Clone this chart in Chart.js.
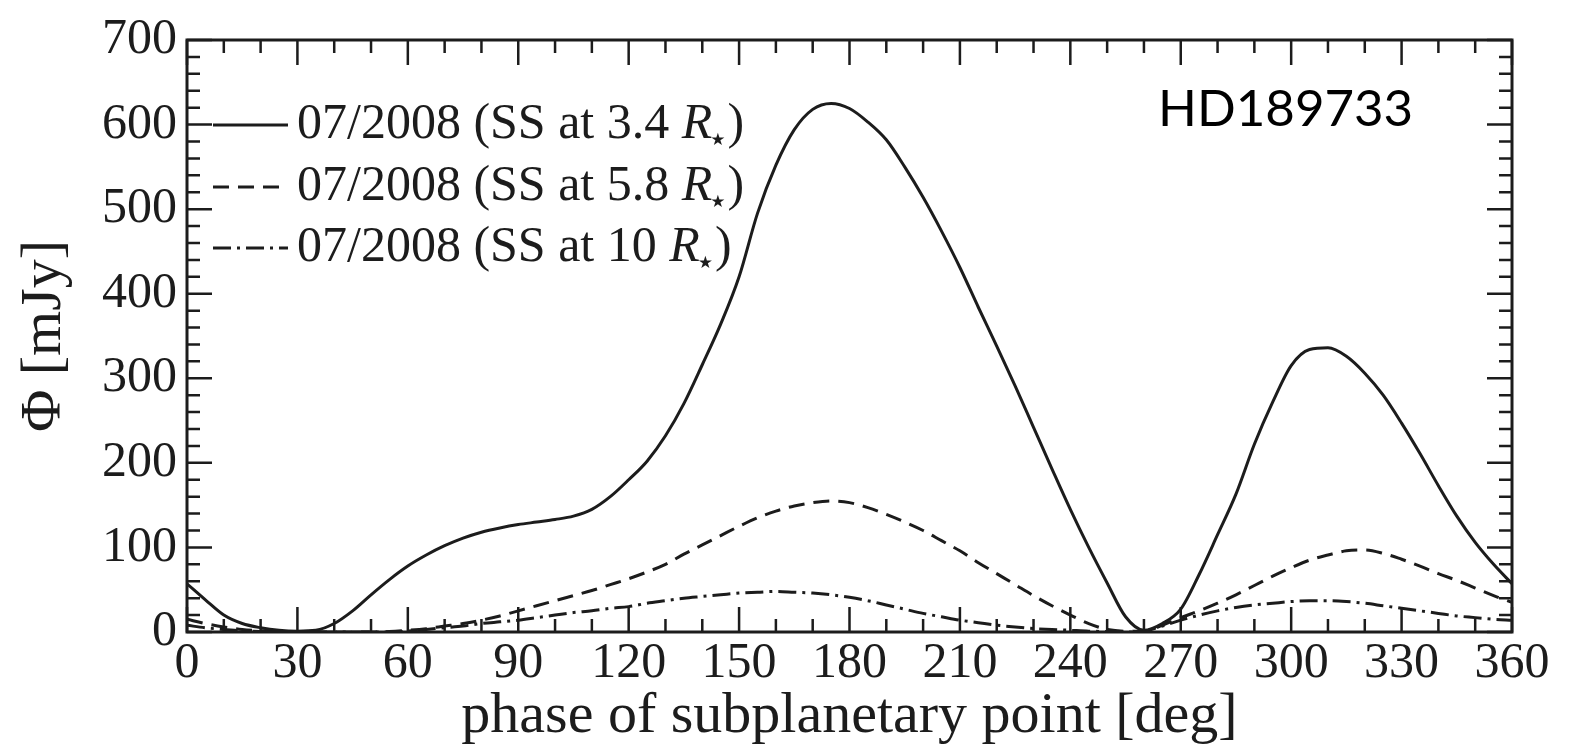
<!DOCTYPE html>
<html>
<head>
<meta charset="utf-8">
<script src="https://cdn.jsdelivr.net/npm/chart.js@4.4.1/dist/chart.umd.min.js"></script>
<style>
  html, body { margin: 0; padding: 0; background: #fff; }
</style>
</head>
<body>
<canvas id="phaseChart" width="1574" height="746"></canvas>
<script>
// phase of subplanetary point [deg], sampled every 5 deg
const phase = [0,5,10,15,20,25,30,35,40,45,50,55,60,65,70,75,80,85,90,95,100,105,110,115,120,125,130,135,140,145,150,155,160,165,170,175,180,185,190,195,200,205,210,215,220,225,230,235,240,245,250,255,260,265,270,275,280,285,290,295,300,305,310,315,320,325,330,335,340,345,350,355,360];

// flux [mJy]
const flux34 = [57,38,20,10,5,2,1,2,10,25,44,62,78,91,102,111,118,123,127,130,133,137,145,160,180,202,232,270,316,364,420,495,552,594,618,625,619,603,582,550,514,474,431,384,338,291,242,193,145,100,58,18,2,10,27,68,115,163,222,272,315,334,336,326,306,280,247,211,173,137,106,80,57];
const flux58 = [15,10,6,3,1.5,0.5,0,0,0,0,0,0.5,2,4,7,10,14,19,25,31,37,43,49,56,63,71,80,92,103,114,125,135,143,149,153,155,153,147,139,130,120,108,96,82,69,56,43,31,20,10,3,1,1,8,17,25,34,44,55,66,76,85,91,96,97,93,86,78,69,61,52,43,35];
const flux10 = [8,5,3,1.5,0.5,0,0,0,0,0,0,0,1,3,5,7,10,12,14,17,20,23,25,28,30,34,37,40,42,44,46,47,48,47,46,44,41,37,32,27,22,18,14,11,8,6,4,3,2,1,0.5,0,1,7,14,20,25,29,32,34,36,37,37,36,34,31,28,25,22,19,17,15,14];

const seriesLabels = ['07/2008 (SS at 3.4 R★)', '07/2008 (SS at 5.8 R★)', '07/2008 (SS at 10 R★)'];
const xTickLabels = [0,30,60,90,120,150,180,210,240,270,300,330,360];
const yTickLabels = [0,100,200,300,400,500,600,700];
const starName = 'HD189733';

const ink = '#1c1c1c';
const serif = "'Liberation Serif', 'DejaVu Serif', serif";

function toPoints(ys) {
  return phase.map((x, i) => ({ x, y: ys[i] }));
}

// inward ticks on all four sides plus the frame
const frameTicks = {
  id: 'frameTicks',
  afterDraw(chart) {
    const { ctx, chartArea: a, scales } = chart;
    const xs = scales.x, ys = scales.y;
    ctx.save();
    ctx.strokeStyle = ink;
    ctx.lineWidth = 2.5;
    ctx.beginPath();
    for (let v = 0; v <= 360; v += 10) {
      const px = xs.getPixelForValue(v);
      const len = v % 30 === 0 ? 25 : 13;
      ctx.moveTo(px, a.bottom); ctx.lineTo(px, a.bottom - len);
      ctx.moveTo(px, a.top); ctx.lineTo(px, a.top + len);
    }
    for (let v = 0; v <= 700; v += 20) {
      const py = ys.getPixelForValue(v);
      const len = v % 100 === 0 ? 25 : 13;
      ctx.moveTo(a.left, py); ctx.lineTo(a.left + len, py);
      ctx.moveTo(a.right, py); ctx.lineTo(a.right - len, py);
    }
    ctx.stroke();
    ctx.lineWidth = 3;
    ctx.strokeRect(a.left, a.top, a.right - a.left, a.bottom - a.top);
    ctx.restore();
  }
};

// legend in the upper left corner, with italic R and a subscript star
const cornerLegend = {
  id: 'cornerLegend',
  afterDraw(chart) {
    const { ctx } = chart;
    const x0 = 213, x1 = 288, tx = 297;
    const rows = [125, 187, 248];
    ctx.save();
    chart.data.datasets.forEach((ds, i) => {
      const y = rows[i];
      ctx.strokeStyle = ink;
      ctx.lineWidth = 3;
      ctx.setLineDash(ds.borderDash || []);
      ctx.beginPath();
      ctx.moveTo(x0, y); ctx.lineTo(x1, y);
      ctx.stroke();
      ctx.setLineDash([]);

      const [head] = ds.label.split('R★');
      ctx.fillStyle = ink;
      ctx.textBaseline = 'middle';
      ctx.textAlign = 'left';
      let x = tx;
      ctx.font = '50px ' + serif;
      ctx.fillText(head, x, y);
      x += ctx.measureText(head).width;
      ctx.font = 'italic 50px ' + serif;
      ctx.fillText('R', x, y);
      x += ctx.measureText('R').width;
      ctx.font = "17px 'DejaVu Sans'";
      ctx.fillText('★', x - 2, y + 16);
      x += ctx.measureText('★').width;
      ctx.font = '50px ' + serif;
      ctx.fillText(')', x, y);
    });
    ctx.font = "51px Lato, 'Open Sans', sans-serif";
    ctx.fillStyle = '#000';
    ctx.textBaseline = 'alphabetic';
    ctx.fillText(starName, 1158, 126);
    ctx.restore();
  }
};

new Chart(document.getElementById('phaseChart'), {
  type: 'line',
  data: {
    datasets: [
      { label: seriesLabels[0], data: toPoints(flux34), borderDash: [] },
      { label: seriesLabels[1], data: toPoints(flux58), borderDash: [16, 9] },
      { label: seriesLabels[2], data: toPoints(flux10), borderDash: [18, 6, 3, 6] }
    ].map(ds => Object.assign(ds, {
      borderColor: ink,
      borderWidth: 3,
      pointRadius: 0,
      fill: false,
      cubicInterpolationMode: 'monotone'
    }))
  },
  options: {
    responsive: false,
    animation: false,
    layout: { padding: { top: 29, right: 62, left: 0, bottom: 0 } },
    plugins: { legend: { display: false }, tooltip: { enabled: false } },
    scales: {
      x: {
        type: 'linear',
        min: 0, max: 360,
        afterFit: s => { s.height = 114; },
        afterBuildTicks: s => { s.ticks = xTickLabels.map(v => ({ value: v })); },
        grid: { display: false, drawTicks: false },
        border: { display: false },
        ticks: { color: ink, font: { family: serif, size: 50 }, padding: 2, maxRotation: 0, autoSkip: false },
        title: {
          display: true,
          text: 'phase of subplanetary point [deg]',
          color: ink,
          font: { family: serif, size: 58, lineHeight: 1.0 },
          padding: { top: 0, bottom: 0 }
        }
      },
      y: {
        min: 0, max: 700,
        afterFit: s => { s.width = 187; },
        afterBuildTicks: s => { s.ticks = yTickLabels.map(v => ({ value: v })); },
        grid: { display: false, drawTicks: false },
        border: { display: false },
        ticks: { color: ink, font: { family: serif, size: 50 }, padding: 10 },
        title: {
          display: true,
          text: 'Φ [mJy]',
          color: ink,
          font: { family: serif, size: 58 },
          padding: { top: 10, bottom: 0 }
        }
      }
    }
  },
  plugins: [frameTicks, cornerLegend]
});
</script>
</body>
</html>
